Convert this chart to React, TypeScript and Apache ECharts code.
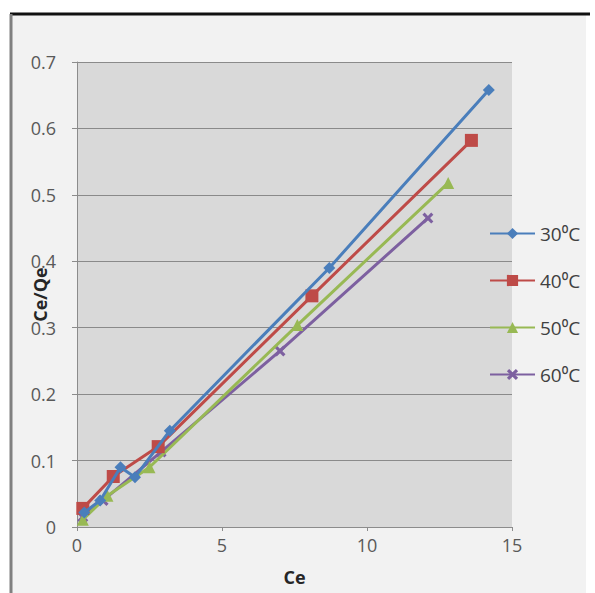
import React, { useEffect, useRef } from "react";
import * as echarts from "echarts";

const seriesNames = ["30⁰C", "40⁰C", "50⁰C", "60⁰C"];
const colors = ["#4a7ebb", "#be4b48", "#98b954", "#7d60a0"];
const s30: [number, number][] = [
  [0.25, 0.022], [0.8, 0.04], [1.5, 0.09], [2.0, 0.075], [3.2, 0.145], [8.7, 0.39], [14.2, 0.658],
];
const s40: [number, number][] = [
  [0.2, 0.028], [1.25, 0.076], [2.8, 0.121], [8.1, 0.348], [13.6, 0.582],
];
const s50: [number, number][] = [
  [0.2, 0.011], [1.05, 0.047], [2.5, 0.09], [7.6, 0.304], [12.8, 0.518],
];
const s60: [number, number][] = [
  [0.2, 0.015], [0.9, 0.04], [2.9, 0.113], [7.0, 0.265], [12.1, 0.465],
];
const allData = [s30, s40, s50, s60];
const symbols = [
  "diamond",
  "rect",
  "triangle",
  "path://M2,0 L5,3 L8,0 L10,2 L7,5 L10,8 L8,10 L5,7 L2,10 L0,8 L3,5 L0,2 Z",
];
const symbolSizes = [12, 13, 12, 11];

export default function App() {
  const ref = useRef<HTMLDivElement>(null);
  useEffect(() => {
    if (!ref.current) return;
    const chart = echarts.init(ref.current, undefined, { renderer: "svg" });
    const font = "'Open Sans', 'Noto Sans', sans-serif";
    chart.setOption({
      animation: false,
      backgroundColor: "#ffffff",
      textStyle: { fontFamily: font },
      graphic: [
        {
          type: "rect",
          shape: { x: 11, y: 14, width: 575, height: 579 },
          style: { fill: "#f2f2f2" },
          z: -10,
          silent: true,
        },
        {
          type: "line",
          shape: { x1: 10, y1: 14, x2: 590, y2: 14 },
          style: { stroke: "#111111", lineWidth: 3 },
          z: -5,
        },
        {
          type: "line",
          shape: { x1: 11, y1: 14, x2: 11, y2: 593 },
          style: { stroke: "#808080", lineWidth: 3 },
          z: -5,
        },
      ],
      grid: {
        left: 77,
        right: 83,
        top: 62,
        bottom: 66,
        show: true,
        backgroundColor: "#d9d9d9",
        borderWidth: 0,
        containLabel: false,
        outerBoundsMode: "none",
      },
      legend: {
        orient: "vertical",
        left: 484,
        top: 219,
        itemGap: 28,
        itemWidth: 45,
        itemHeight: 14,
        textStyle: { fontSize: 19, color: "#404040", fontFamily: font },
        data: seriesNames,
      },
      xAxis: {
        type: "value",
        min: 0,
        max: 15,
        interval: 5,
        name: "Ce",
        nameLocation: "middle",
        nameGap: 41,
        nameMoveOverlap: false,
        nameTextStyle: { fontSize: 18, fontWeight: "bold", color: "#262626" },
        axisLine: { show: true, lineStyle: { color: "#8c8c8c", width: 1 } },
        axisTick: { show: true, length: 4, lineStyle: { color: "#8c8c8c" } },
        axisLabel: { fontSize: 18, color: "#595959", margin: 9 },
        splitLine: { show: false },
      },
      yAxis: {
        type: "value",
        min: 0,
        max: 0.7,
        interval: 0.1,
        name: "Ce/Qe",
        nameLocation: "middle",
        nameGap: 28,
        nameMoveOverlap: false,
        nameRotate: 90,
        nameTextStyle: { fontSize: 18, fontWeight: "bold", color: "#262626" },
        axisLine: { show: true, lineStyle: { color: "#8c8c8c", width: 1 } },
        axisTick: { show: true, length: 5, lineStyle: { color: "#8c8c8c" } },
        axisLabel: { fontSize: 18, color: "#595959", margin: 21 },
        splitLine: { show: true, lineStyle: { color: "#8a8a8a", width: 1 } },
      },
      series: allData.map((d, i) => ({
        name: seriesNames[i],
        type: "line",
        data: d,
        symbol: symbols[i],
        symbolSize: symbolSizes[i],
        showSymbol: true,
        lineStyle: { color: colors[i], width: 3 },
        itemStyle: { color: colors[i] },
        z: 10 - i,
      })),
    });
    return () => chart.dispose();
  }, []);
  return (
    <div
      ref={ref}
      style={{ position: "fixed", left: 0, top: 0, width: 595, height: 593 }}
    />
  );
}
